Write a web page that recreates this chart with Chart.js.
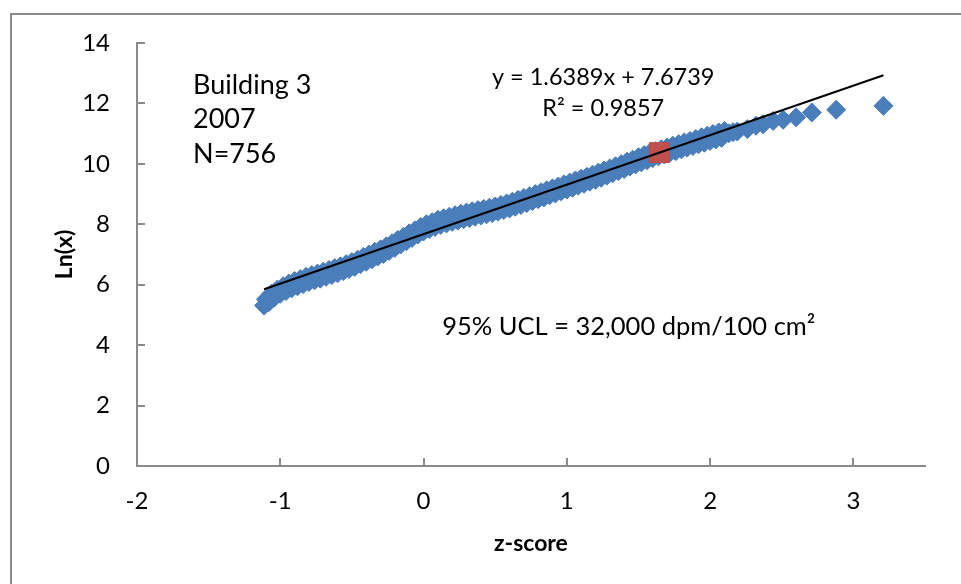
<!DOCTYPE html>
<html>
<head>
<meta charset="utf-8">
<script src="https://cdn.jsdelivr.net/npm/chart.js@4/dist/chart.umd.min.js"></script>
<style>
  html, body { margin: 0; padding: 0; background: #ffffff; }
  #wrap { width: 961px; height: 584px; }
</style>
</head>
<body>
<div id="wrap"><canvas id="chart" width="961" height="584"></canvas></div>
<script>
// Normal-score plot of ln(x) for the Building 3 survey results (2007)
const zScores = [
  -1.113,
  -1.10, -1.08, -1.06, -1.04, -1.02, -1.00, -0.98, -0.96, -0.94, -0.92,
  -0.90, -0.88, -0.86, -0.84, -0.82, -0.80, -0.78, -0.76, -0.74, -0.72,
  -0.70, -0.68, -0.66, -0.64, -0.62, -0.60, -0.58, -0.56, -0.54, -0.52,
  -0.50, -0.48, -0.46, -0.44, -0.42, -0.40, -0.38, -0.36, -0.34, -0.32,
  -0.30, -0.28, -0.26, -0.24, -0.22, -0.20, -0.18, -0.16, -0.14, -0.12,
  -0.10, -0.08, -0.06, -0.04, -0.02, 0.00, 0.02, 0.04, 0.06, 0.08,
  0.10, 0.12, 0.14, 0.16, 0.18, 0.20, 0.22, 0.24, 0.26, 0.28,
  0.30, 0.32, 0.34, 0.36, 0.38, 0.40, 0.42, 0.44, 0.46, 0.48,
  0.50, 0.52, 0.54, 0.56, 0.58, 0.60, 0.62, 0.64, 0.66, 0.68,
  0.70, 0.72, 0.74, 0.76, 0.78, 0.80, 0.82, 0.84, 0.86, 0.88,
  0.90, 0.92, 0.94, 0.96, 0.98, 1.00, 1.02, 1.04, 1.06, 1.08,
  1.10, 1.12, 1.14, 1.16, 1.18, 1.20, 1.22, 1.24, 1.26, 1.28,
  1.30, 1.32, 1.34, 1.36, 1.38, 1.40, 1.42, 1.44, 1.46, 1.48,
  1.50, 1.52, 1.54, 1.56, 1.58, 1.60, 1.62, 1.64, 1.66, 1.68,
  1.70, 1.72, 1.74, 1.76, 1.78, 1.80, 1.82, 1.84, 1.86, 1.88,
  1.90, 1.92, 1.94, 1.96, 1.98, 2.00, 2.02, 2.04, 2.06, 2.08,
  2.10, 2.13, 2.16, 2.19,
  2.26, 2.32, 2.37, 2.44, 2.51, 2.60, 2.71, 2.88, 3.21
];
const lnValues = [
  5.31,
  5.52, 5.42, 5.71, 5.58, 5.84, 5.70, 5.95, 5.79, 6.04, 5.88,
  6.12, 5.95, 6.19, 6.02, 6.26, 6.09, 6.32, 6.15, 6.37, 6.20,
  6.43, 6.26, 6.49, 6.32, 6.55, 6.38, 6.61, 6.45, 6.68, 6.52,
  6.75, 6.59, 6.83, 6.68, 6.92, 6.76, 7.00, 6.84, 7.09, 6.93,
  7.17, 7.02, 7.27, 7.12, 7.37, 7.22, 7.48, 7.33, 7.59, 7.44,
  7.70, 7.55, 7.80, 7.66, 7.91, 7.76, 8.00, 7.84, 8.07, 7.91,
  8.15, 7.98, 8.20, 8.03, 8.25, 8.08, 8.30, 8.12, 8.35, 8.17,
  8.39, 8.21, 8.43, 8.25, 8.47, 8.29, 8.51, 8.33, 8.55, 8.37,
  8.59, 8.42, 8.64, 8.47, 8.69, 8.52, 8.75, 8.58, 8.81, 8.64,
  8.87, 8.70, 8.93, 8.77, 9.00, 8.83, 9.06, 8.89, 9.13, 8.96,
  9.19, 9.02, 9.25, 9.09, 9.32, 9.15, 9.38, 9.21, 9.45, 9.28,
  9.51, 9.34, 9.57, 9.41, 9.64, 9.47, 9.71, 9.54, 9.78, 9.61,
  9.85, 9.69, 9.92, 9.76, 9.99, 9.83, 10.07, 9.91, 10.14, 9.98,
  10.22, 10.05, 10.29, 10.12, 10.36, 10.19, 10.42, 10.25, 10.48, 10.31,
  10.54, 10.37, 10.60, 10.42, 10.65, 10.48, 10.71, 10.54, 10.76, 10.59,
  10.82, 10.65, 10.88, 10.70, 10.93, 10.76, 10.99, 10.81, 11.04, 10.86,
  11.09, 11.01, 11.05, 11.07,
  11.15, 11.26, 11.31, 11.42, 11.46, 11.54, 11.70, 11.79, 11.92
];

// 95% upper confidence limit (dpm/100 cm2) and its normal score
const uclValue = 32000;
const uclZ = 1.645;

// Least-squares fit shown on the chart
const trendSlope = 1.6389;
const trendIntercept = 7.6739;
const rSquared = 0.9857;

// Axis ranges and tick positions
const xTicks = [-2, -1, 0, 1, 2, 3];
const yTicks = [0, 2, 4, 6, 8, 10, 12, 14];
const xRange = [-2, 3.5];
const yRange = [0, 14];

const infoLines = ['Building 3', '2007', 'N=756'];
const uclLabel = '95% UCL = 32,000 dpm/100 cm²';

const FONT = 'Lato, "Open Sans", sans-serif';
const AXIS_GREY = '#8a8a8a';

const points = zScores.map((z, i) => ({ x: z, y: lnValues[i] }));
const zMin = Math.min(...zScores);
const zMax = Math.max(...zScores);
const trendPoints = [zMin, zMax].map(z => ({ x: z, y: trendSlope * z + trendIntercept }));
const uclPoint = [{ x: uclZ, y: Math.log(uclValue) }];

// Frame around the whole chart
const framePlugin = {
  id: 'frame',
  beforeDraw(chart) {
    const ctx = chart.ctx;
    ctx.save();
    ctx.fillStyle = '#ffffff';
    ctx.fillRect(0, 0, chart.width, chart.height);
    ctx.strokeStyle = AXIS_GREY;
    ctx.lineWidth = 2;
    ctx.strokeRect(11, 14, chart.width + 40, chart.height + 40);
    ctx.restore();
  }
};

// Tick marks pointing into the plot area
const innerTicksPlugin = {
  id: 'innerTicks',
  beforeDatasetsDraw(chart) {
    const { ctx, chartArea, scales } = chart;
    ctx.save();
    ctx.strokeStyle = AXIS_GREY;
    ctx.lineWidth = 2;
    ctx.beginPath();
    scales.x.ticks.forEach(t => {
      const px = Math.round(scales.x.getPixelForValue(t.value));
      ctx.moveTo(px, chartArea.bottom);
      ctx.lineTo(px, chartArea.bottom - 8);
    });
    scales.y.ticks.forEach(t => {
      const py = Math.round(scales.y.getPixelForValue(t.value));
      ctx.moveTo(chartArea.left, py);
      ctx.lineTo(chartArea.left + 8, py);
    });
    ctx.stroke();
    ctx.restore();
  }
};

// Text boxes: site info, fit equation and UCL statement
const notesPlugin = {
  id: 'notes',
  afterDraw(chart) {
    const { ctx, scales } = chart;
    const X = v => scales.x.getPixelForValue(v);
    const Y = v => scales.y.getPixelForValue(v);
    ctx.save();
    ctx.fillStyle = '#000000';
    ctx.textBaseline = 'middle';

    ctx.font = '27px ' + FONT;
    ctx.textAlign = 'left';
    const infoY = [12.61, 11.48, 10.32];
    infoLines.forEach((s, i) => ctx.fillText(s, X(-1.609), Y(infoY[i])));

    ctx.font = '23.5px ' + FONT;
    ctx.textAlign = 'center';
    ctx.fillText('y = ' + trendSlope.toFixed(4) + 'x + ' + trendIntercept.toFixed(4), X(1.254), Y(12.87));
    ctx.fillText('R² = ' + rSquared.toFixed(4), X(1.254), Y(11.84));

    ctx.font = '25.5px ' + FONT;
    ctx.textAlign = 'left';
    ctx.fillText(uclLabel, X(0.130), Y(4.61));
    ctx.restore();
  }
};

new Chart(document.getElementById('chart'), {
  type: 'scatter',
  data: {
    datasets: [
      {
        label: 'Linear fit',
        type: 'line',
        data: trendPoints,
        borderColor: '#000000',
        borderWidth: 2,
        pointRadius: 0,
        fill: false,
        order: 0
      },
      {
        label: '95% UCL',
        data: uclPoint,
        pointStyle: 'rect',
        pointRadius: 14,
        backgroundColor: '#C0504D',
        borderColor: '#BE4B48',
        borderWidth: 1,
        order: 1
      },
      {
        label: 'Ln(x)',
        data: points,
        pointStyle: 'rectRot',
        pointRadius: 9.5,
        backgroundColor: '#4A7EBB',
        borderColor: '#4A7EBB',
        borderWidth: 1,
        order: 2
      }
    ]
  },
  options: {
    responsive: false,
    animation: false,
    events: [],
    layout: { padding: { left: 51, top: 43, right: 36, bottom: 27 } },
    plugins: {
      legend: { display: false },
      tooltip: { enabled: false }
    },
    scales: {
      x: {
        type: 'linear',
        min: xRange[0],
        max: xRange[1],
        afterFit: s => { s.height = 91; },
        afterBuildTicks: s => { s.ticks = xTicks.map(v => ({ value: v })); },
        grid: { display: false, drawTicks: false },
        border: { display: true, color: AXIS_GREY, width: 2 },
        ticks: { color: '#000000', padding: 21, font: { family: FONT, size: 24 } },
        title: {
          display: true,
          text: 'z-score',
          color: '#000000',
          padding: 0,
          font: { family: FONT, size: 23, weight: 'bold' }
        }
      },
      y: {
        type: 'linear',
        min: yRange[0],
        max: yRange[1],
        afterFit: s => { s.width = 86; },
        afterBuildTicks: s => { s.ticks = yTicks.map(v => ({ value: v })); },
        grid: { display: false, drawTicks: false },
        border: { display: true, color: AXIS_GREY, width: 2 },
        ticks: { color: '#000000', padding: 27, font: { family: FONT, size: 24 } },
        title: {
          display: true,
          text: 'Ln(x)',
          color: '#000000',
          padding: 0,
          font: { family: FONT, size: 23, weight: 'bold' }
        }
      }
    }
  },
  plugins: [framePlugin, innerTicksPlugin, notesPlugin]
});
</script>
</body>
</html>
